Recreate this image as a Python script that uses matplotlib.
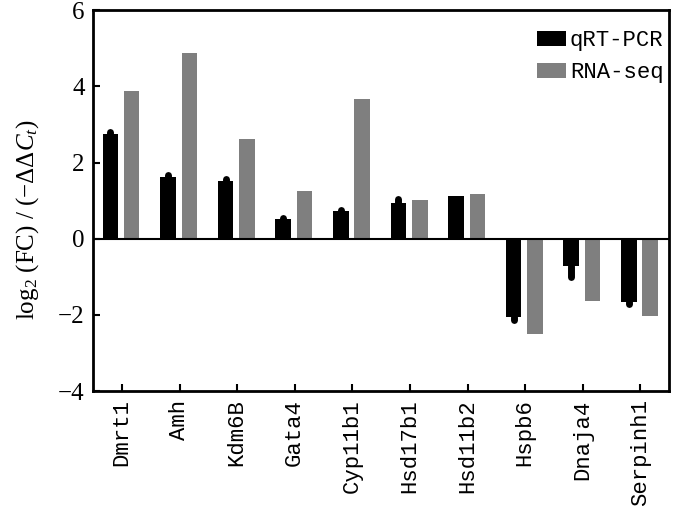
import matplotlib
matplotlib.use("Agg")
import matplotlib.pyplot as plt
import numpy as np

genes = ["Dmrt1", "Amh", "Kdm6B", "Gata4", "Cyp11b1", "Hsd17b1", "Hsd11b2", "Hspb6", "Dnaja4", "Serpinh1"]
qpcr = [2.74, 1.62, 1.52, 0.51, 0.72, 0.95, 1.13, -2.05, -0.72, -1.66]
qpcr_err = [0.05, 0.06, 0.04, 0.03, 0.04, 0.10, 0.0, 0.07, 0.28, 0.06]
rnaseq = [3.89, 4.87, 2.62, 1.25, 3.68, 1.03, 1.18, -2.49, -1.63, -2.03]

plt.rcParams['font.family'] = ['Liberation Serif', 'DejaVu Serif']
plt.rcParams['mathtext.fontset'] = 'custom'
plt.rcParams['mathtext.rm'] = 'Liberation Serif'
plt.rcParams['mathtext.it'] = 'Liberation Serif:italic'

mono = ['Liberation Mono', 'DejaVu Sans Mono']

fig = plt.figure(figsize=(7.0, 5.08), dpi=100)
ax = fig.add_axes([0.133, 0.230, 0.823, 0.750])

x = np.arange(len(genes))
w = 0.27
q = np.array(qpcr)
e = np.array(qpcr_err)
upper = np.where(q >= 0, e, 0)
lower = np.where(q < 0, e, 0)
ax.bar(x - 0.2, qpcr, width=w, color='black', label='qRT-PCR', zorder=2)
ax.bar(x + 0.17, rnaseq, width=w, color='#7f7f7f', label='RNA-seq', zorder=2)
eb = ax.errorbar(x - 0.2, qpcr, yerr=[lower, upper], fmt='none', ecolor='black',
                 elinewidth=5, capsize=0, zorder=3)
for lc in eb[2]:
    lc.set_capstyle('round')

ax.axhline(0, color='black', linewidth=1.5, zorder=4)
ax.set_xlim(-0.5, 9.5)
ax.set_ylim(-4, 6)
ax.set_yticks([-4, -2, 0, 2, 4, 6])
ax.set_yticklabels(["\u22124", "\u22122", "0", "2", "4", "6"])
ax.set_xticks(x)
ax.set_xticklabels(genes, rotation=90, fontsize=16, family=mono)
ax.tick_params(axis='y', direction='in', length=5, width=1.5, labelsize=18, pad=6)
ax.tick_params(axis='x', direction='in', length=5, width=1.5, pad=6)
for s in ax.spines.values():
    s.set_linewidth(2)

ax.set_ylabel(r"log$_2$ (FC) / ($-\Delta\Delta C_t$)", fontsize=18)
ax.yaxis.set_label_coords(-0.09, 0.45)

leg = ax.legend(loc='upper right', frameon=False, prop={'family': mono, 'size': 16},
                handlelength=1.3, handleheight=0.7, handletextpad=0.2, labelspacing=0.5,
                bbox_to_anchor=(1.025, 1.0))

fig.savefig("out.png", dpi=100)
